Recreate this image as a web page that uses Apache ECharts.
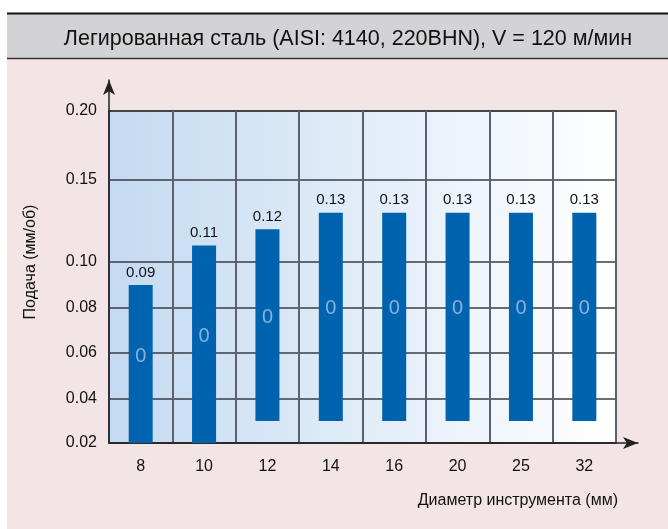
<!DOCTYPE html>
<html>
<head>
<meta charset="utf-8">
<script src="https://cdn.jsdelivr.net/npm/echarts@6/dist/echarts.min.js"></script>
<style>
  html, body { margin: 0; padding: 0; background: #ffffff; }
  #chart { width: 668px; height: 529px; }
</style>
</head>
<body>
<div id="chart"></div>
<script>
// Tool diameters (mm) and the recommended feed range (mm/rev) for each
const diameters = ['8', '10', '12', '14', '16', '20', '25', '32'];
const feedMin = [0.02, 0.02, 0.03, 0.03, 0.03, 0.03, 0.03, 0.03];
const feedMax = [0.09, 0.11, 0.12, 0.13, 0.13, 0.13, 0.13, 0.13];
const barMarks = ['0', '0', '0', '0', '0', '0', '0', '0'];
const feedTicks = [0.02, 0.04, 0.06, 0.08, 0.10, 0.15, 0.20];

// The feed axis is not linear: each tick sits at its own stop along the axis
const axisStops = [0, 44, 90, 135, 181, 263, 332];

function warp(v) {
  for (let i = 0; i < feedTicks.length - 1; i++) {
    const a = feedTicks[i], b = feedTicks[i + 1];
    if (v <= b || i === feedTicks.length - 2) {
      const t = (v - a) / (b - a);
      return axisStops[i] + t * (axisStops[i + 1] - axisStops[i]);
    }
  }
  return 0;
}

const FONT = "'Liberation Sans', Arial, sans-serif";
const chart = echarts.init(document.getElementById('chart'), null, { renderer: 'canvas' });

const baseData = feedMin.map(warp);
const spanData = feedMax.map((v, i) => warp(v) - warp(feedMin[i]));
const markData = feedMin.map((v, i) => [i, (warp(v) + warp(feedMax[i])) / 2]);

chart.setOption({
  backgroundColor: '#f3e4e5',
  animation: false,
  title: {
    text: 'Легированная сталь (AISI: 4140, 220BHN), V = 120 м/мин',
    left: 343,
    top: 23,
    textAlign: 'center',
    textStyle: { fontFamily: FONT, fontSize: 21.5, fontWeight: 'normal', color: '#111' }
  },
  graphic: [
    { type: 'rect', z: -1, shape: { x: 0, y: 0, width: 7, height: 529 }, style: { fill: '#ffffff' } },
    { type: 'rect', z: -1, shape: { x: 0, y: 0, width: 668, height: 13 }, style: { fill: '#ffffff' } },
    { type: 'rect', z: -1, shape: { x: 7, y: 14, width: 661, height: 44.5 }, style: { fill: '#d3d3d5' } },
    { type: 'line', shape: { x1: 7, y1: 13.5, x2: 668, y2: 13.5 }, style: { stroke: '#111', lineWidth: 2 } },
    { type: 'line', shape: { x1: 7, y1: 58.5, x2: 668, y2: 58.5 }, style: { stroke: '#333', lineWidth: 1.5 } }
  ],
  grid: [
    {
      left: 109, right: 52, top: 111, bottom: 86,
      show: true,
      borderColor: '#333', borderWidth: 1.5,
      backgroundColor: {
        type: 'linear', x: 0, y: 0, x2: 1, y2: 0,
        colorStops: [{ offset: 0, color: '#c4daf1' }, { offset: 1, color: '#ffffff' }]
      }
    },
    { left: 109, right: 30, top: 80, bottom: 86 }
  ],
  xAxis: [
    {
      type: 'category',
      gridIndex: 0,
      data: diameters,
      axisLine: { show: false },
      axisTick: { show: false },
      axisLabel: { margin: 16, fontFamily: FONT, fontSize: 16, color: '#111' },
      splitLine: { show: true, lineStyle: { color: '#5b6170', width: 2 } },
      name: 'Диаметр инструмента (мм)',
      nameLocation: 'end',
      nameGap: 2,
      nameTextStyle: {
        fontFamily: FONT, fontSize: 16, color: '#111',
        align: 'right', verticalAlign: 'top', padding: [50, 0, 0, 0]
      }
    },
    {
      type: 'value', gridIndex: 1, min: 0, max: 1, position: 'bottom',
      axisLine: { show: true, onZero: false, symbol: ['none', 'arrow'], symbolSize: [9, 15], lineStyle: { color: '#222', width: 1.5 } },
      axisTick: { show: false }, axisLabel: { show: false }, splitLine: { show: false }
    }
  ],
  yAxis: [
    {
      type: 'value',
      gridIndex: 0,
      min: 0,
      max: axisStops[axisStops.length - 1],
      axisLine: { show: false },
      axisTick: { show: false, customValues: axisStops },
      axisLabel: {
        customValues: axisStops,
        margin: 12,
        fontFamily: FONT, fontSize: 16, color: '#111',
        formatter: (v) => {
          const i = axisStops.indexOf(v);
          return i >= 0 ? feedTicks[i].toFixed(2) : '';
        }
      },
      splitLine: { show: true, lineStyle: { color: '#3a3d45', width: 1.5 } },
      name: 'Подача (мм/об)',
      nameLocation: 'middle',
      nameGap: 70,
      nameRotate: 90,
      nameTextStyle: { fontFamily: FONT, fontSize: 16, color: '#111', padding: [0, 0, 0, 30] }
    },
    {
      type: 'value', gridIndex: 1, min: 0, max: 1, position: 'left',
      axisLine: { show: true, onZero: false, symbol: ['none', 'arrow'], symbolSize: [9, 15], lineStyle: { color: '#222', width: 1.5 } },
      axisTick: { show: false }, axisLabel: { show: false }, splitLine: { show: false }
    }
  ],
  series: [
    {
      name: 'base',
      type: 'bar',
      stack: 'feed',
      barWidth: 24,
      silent: true,
      itemStyle: { color: 'rgba(0,0,0,0)' },
      data: baseData
    },
    {
      name: 'feed',
      type: 'bar',
      stack: 'feed',
      barWidth: 24,
      itemStyle: { color: '#0063b0' },
      label: {
        show: true,
        position: 'top',
        distance: 5,
        fontFamily: FONT, fontSize: 15, color: '#111',
        formatter: (p) => feedMax[p.dataIndex].toFixed(2)
      },
      data: spanData
    },
    {
      name: 'mark',
      type: 'scatter',
      symbolSize: 1,
      itemStyle: { color: 'rgba(0,0,0,0)' },
      label: {
        show: true,
        position: 'inside',
        offset: [0, -8],
        fontFamily: FONT, fontSize: 20, color: '#a9c3e6',
        formatter: (p) => barMarks[p.dataIndex]
      },
      data: markData
    }
  ]
});
</script>
</body>
</html>
